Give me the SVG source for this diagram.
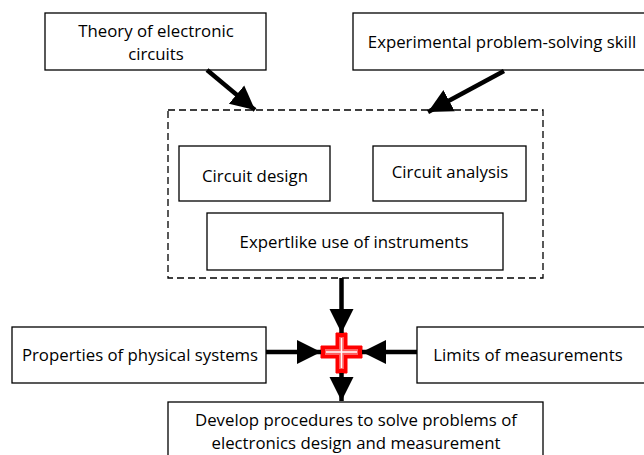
<svg xmlns="http://www.w3.org/2000/svg" width="644" height="455" viewBox="0 0 644 455">
<style>
.box{fill:#fff;stroke:#000;stroke-width:1.3}
.dash{fill:none;stroke:#000;stroke-width:1.3;stroke-dasharray:7,4}
text{font-family:"Open Sans","Noto Sans",sans-serif;font-size:16.8px;fill:#000;text-anchor:middle}
.con{stroke:#000;stroke-width:4.5;fill:none}
</style>
<defs>
<marker id="ah" markerUnits="userSpaceOnUse" markerWidth="26" markerHeight="26" viewBox="0 0 26 26" refX="24" refY="13" orient="auto">
<path d="M0,1 L24,13 L0,25 Z" fill="#000"/>
</marker>
</defs>
<rect width="644" height="455" fill="#fff"/>
<g id="n-theory"><rect class="box" x="45" y="13" width="221" height="57"/><text x="156" y="37">Theory of electronic</text><text x="156" y="60">circuits</text></g>
<g id="n-experimental"><rect class="box" x="353" y="13" width="300" height="57"/><text x="502" y="48">Experimental problem-solving skill</text></g>
<g id="n-group"><rect class="dash" x="168" y="110" width="375" height="168"/></g>
<g id="n-design"><rect class="box" x="179" y="146" width="151" height="55"/><text x="255" y="182">Circuit design</text></g>
<g id="n-analysis"><rect class="box" x="373" y="146" width="153" height="55"/><text x="450" y="178">Circuit analysis</text></g>
<g id="n-expert"><rect class="box" x="207" y="213" width="296" height="57"/><text x="354" y="248">Expertlike use of instruments</text></g>
<g id="n-properties"><rect class="box" x="12" y="327" width="254" height="56"/><text x="140" y="361">Properties of physical systems</text></g>
<g id="n-limits"><rect class="box" x="417" y="327" width="240" height="56"/><text x="528" y="361">Limits of measurements</text></g>
<g id="n-develop"><rect class="box" x="168" y="402" width="375" height="70"/><text x="356" y="426">Develop procedures to solve problems of</text><text x="356" y="449">electronics design and measurement</text></g>
<g id="n-cross">
<path d="M336,333 H347 V346 H362 V358 H347 V373 H336 V358 H321 V346 H336 Z" fill="#f00" stroke="#f00" stroke-width="1"/>
<path d="M339,337 H344 V349 H358 V355 H344 V369 H339 V355 H325 V349 H339 Z" fill="#ff6060"/>
<path d="M341.5,338 V368 M326,352 H357" stroke="#fff" stroke-width="1.5"/>
</g>
<g id="connectors">
<line class="con" x1="207" y1="70" x2="255" y2="110" marker-end="url(#ah)"/>
<line class="con" x1="504" y1="71" x2="428" y2="112" marker-end="url(#ah)"/>
<line class="con" x1="341.5" y1="278" x2="341.5" y2="333" marker-end="url(#ah)"/>
<line class="con" x1="266" y1="352" x2="321" y2="352" marker-end="url(#ah)"/>
<line class="con" x1="417" y1="352" x2="362" y2="352" marker-end="url(#ah)"/>
<line class="con" x1="341.5" y1="373" x2="341.5" y2="401" marker-end="url(#ah)"/>
</g>
</svg>
